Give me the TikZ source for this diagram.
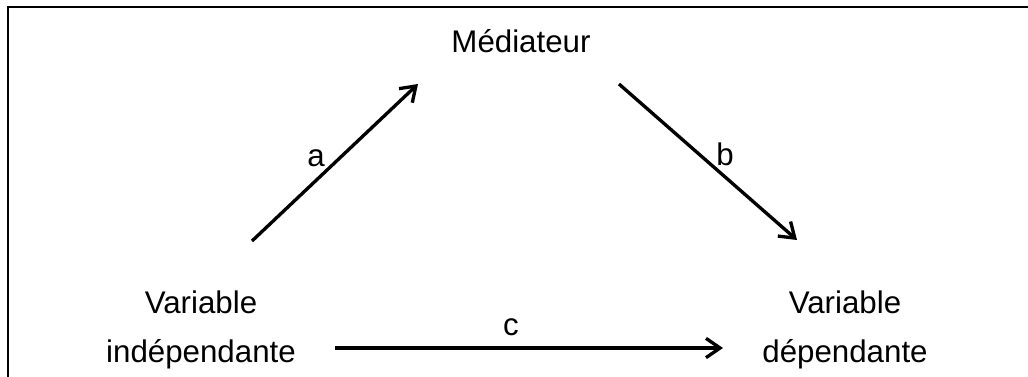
\documentclass[tikz,border=0pt]{standalone}
\usepackage{fontspec}
\setmainfont{Liberation Sans}
\usetikzlibrary{arrows.meta}
\begin{document}
\begin{tikzpicture}[x=0.02cm,y=-0.02cm,
  lbl/.style={font=\fontsize{17.8pt}{27.8pt}\selectfont, inner sep=0pt, align=center},
  conn/.style={line width=1.9pt, -{Straight Barb[length=8pt,width=11pt,line width=1.9pt]}},
  frame/.style={line width=1.5pt}]
\useasboundingbox (0,0) rectangle (1028,376);
\draw[frame] (8,380) -- (8,7) -- (1032,7);
\node[lbl] (med) at (521,41) {Médiateur};
\node[lbl] (iv) at (201,330) {Variable\\indépendante};
\node[lbl] (dv) at (845,330) {Variable\\dépendante};
\coordinate (a1) at (252,241);
\coordinate (a2) at (418,84);
\coordinate (b1) at (619,84);
\coordinate (b2) at (797,240);
\coordinate (c1) at (335,348);
\coordinate (c2) at (723,348);
\draw[conn] (a1) -- (a2);
\draw[conn] (b1) -- (b2);
\draw[conn] (c1) -- (c2);
\node[lbl] (la) at (316,158) {a};
\node[lbl] (lb) at (725,154) {b};
\node[lbl] (lc) at (511,327) {c};
\end{tikzpicture}
\end{document}
